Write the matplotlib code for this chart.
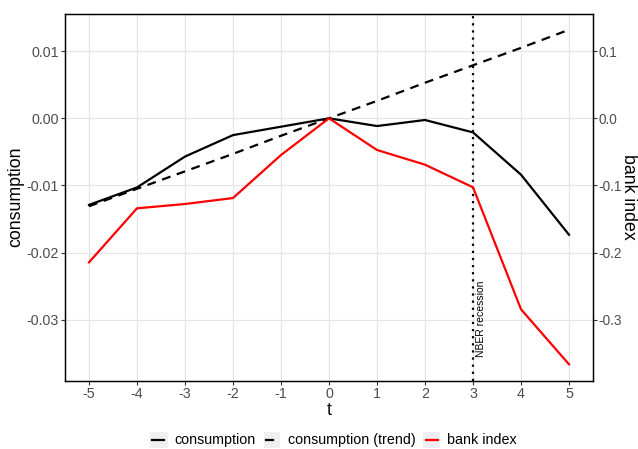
import matplotlib
matplotlib.use("Agg")
import matplotlib.pyplot as plt
from matplotlib.lines import Line2D
from matplotlib.patches import Rectangle

plt.rcParams['font.family'] = ['Liberation Sans', 'DejaVu Sans']

t = [-5, -4, -3, -2, -1, 0, 1, 2, 3, 4, 5]
consumption = [-0.0129, -0.0103, -0.0057, -0.0025, -0.00125, 0.0, -0.00115, -0.00025, -0.0021, -0.0084, -0.01735]
consumption_trend = [-0.0131, -0.0105, -0.0079, -0.0053, -0.0026, 0.0, 0.0026, 0.0053, 0.0079, 0.0105, 0.0132]
bank_index = [-0.2146, -0.1341, -0.1277, -0.1188, -0.0547, 0.0, -0.0472, -0.0691, -0.1028, -0.2846, -0.3666]
xticks = [-5, -4, -3, -2, -1, 0, 1, 2, 3, 4, 5]
yticks_left = [-0.03, -0.02, -0.01, 0.00, 0.01]
yticks_right = [-0.3, -0.2, -0.1, 0.0, 0.1]
recession_t = 3

W, H = 638, 449
fig = plt.figure(figsize=(W/100, H/100), dpi=100)
L, R, T, B = 65, 593, 13.5, 380.7
ax = fig.add_axes([L/W, 1-B/H, (R-L)/W, (B-T)/H])
ax2 = ax.twinx()

ylo, yhi = -0.0391, 0.01562
ax.set_xlim(-5.5, 5.5)
ax.set_ylim(ylo, yhi)
ax2.set_ylim(ylo*10, yhi*10)

grid_c = '#E5E5E5'
for x in xticks:
    ax.axvline(x, color=grid_c, lw=0.8, zorder=0)
for y in yticks_left:
    ax.axhline(y, color=grid_c, lw=0.8, zorder=0)

ax.plot(t, consumption, color='black', lw=1.6, zorder=3)
ax.plot(t, consumption_trend, color='black', lw=1.6, ls=(0, (4, 3)), zorder=3)
ax2.plot(t, bank_index, color='red', lw=1.6, zorder=3)
ax.axvline(recession_t, color='black', lw=1.6, ls=(0, (1, 2.2)), zorder=4)
ax.text(recession_t + 0.175, -0.0299, 'NBER recession', rotation=90, fontsize=7.5,
        ha='center', va='center', color='black')

ax.set_xticks(xticks)
ax.set_xticklabels([str(x) for x in xticks])
ax.set_yticks(yticks_left)
ax.set_yticklabels(['-0.03', '-0.02', '-0.01', '0.00', '0.01'])
ax2.set_yticks(yticks_right)
ax2.set_yticklabels(['-0.3', '-0.2', '-0.1', '0.0', '0.1'])

tc = '#4D4D4D'
for a in (ax, ax2):
    a.tick_params(axis='both', colors='#333333', labelcolor=tc, labelsize=10.3, length=3, width=0.8, pad=1.5)
    for s in a.spines.values():
        s.set_color('black')
        s.set_linewidth(0.9)
ax2.tick_params(axis='y', pad=0.8, labelsize=9.8)

ax.set_xlabel('t', fontsize=12.8, labelpad=1)
ax.set_ylabel('consumption', fontsize=12.8, va='center')
ax.yaxis.set_label_coords((16 - L) / (R - L), 0.5)
ax2.set_ylabel('bank index', fontsize=12.8, rotation=270, va='center')
ax2.yaxis.set_label_coords((628.5 - L) / (R - L), 0.5)
ax.patch.set_visible(False)

# legend (manual, figure coordinates)
ly = 440.0
keys = [
    (149.5, 18, 174.3, 'consumption', 'black', (151.7, 164)),
    (264, 16, 288, 'consumption (trend)', 'black', (266, 273.3)),
    (423.3, 17, 447.3, 'bank index', 'red', (425.7, 437.7)),
]
for kx, kw, tx, label, col, (x0, x1) in keys:
    fig.patches.append(Rectangle((kx/W, 1-448.3/H), kw/W, 16.6/H, transform=fig.transFigure,
                                 facecolor='#F0F0F0', edgecolor='none'))
    fig.lines.append(Line2D([x0/W, x1/W], [1-ly/H, 1-ly/H], transform=fig.transFigure, color=col, lw=1.6))
    fig.text(tx/W, 1-ly/H, label, fontsize=10.3, va='center', ha='left', color='black')

fig.savefig('out.png', dpi=100)
